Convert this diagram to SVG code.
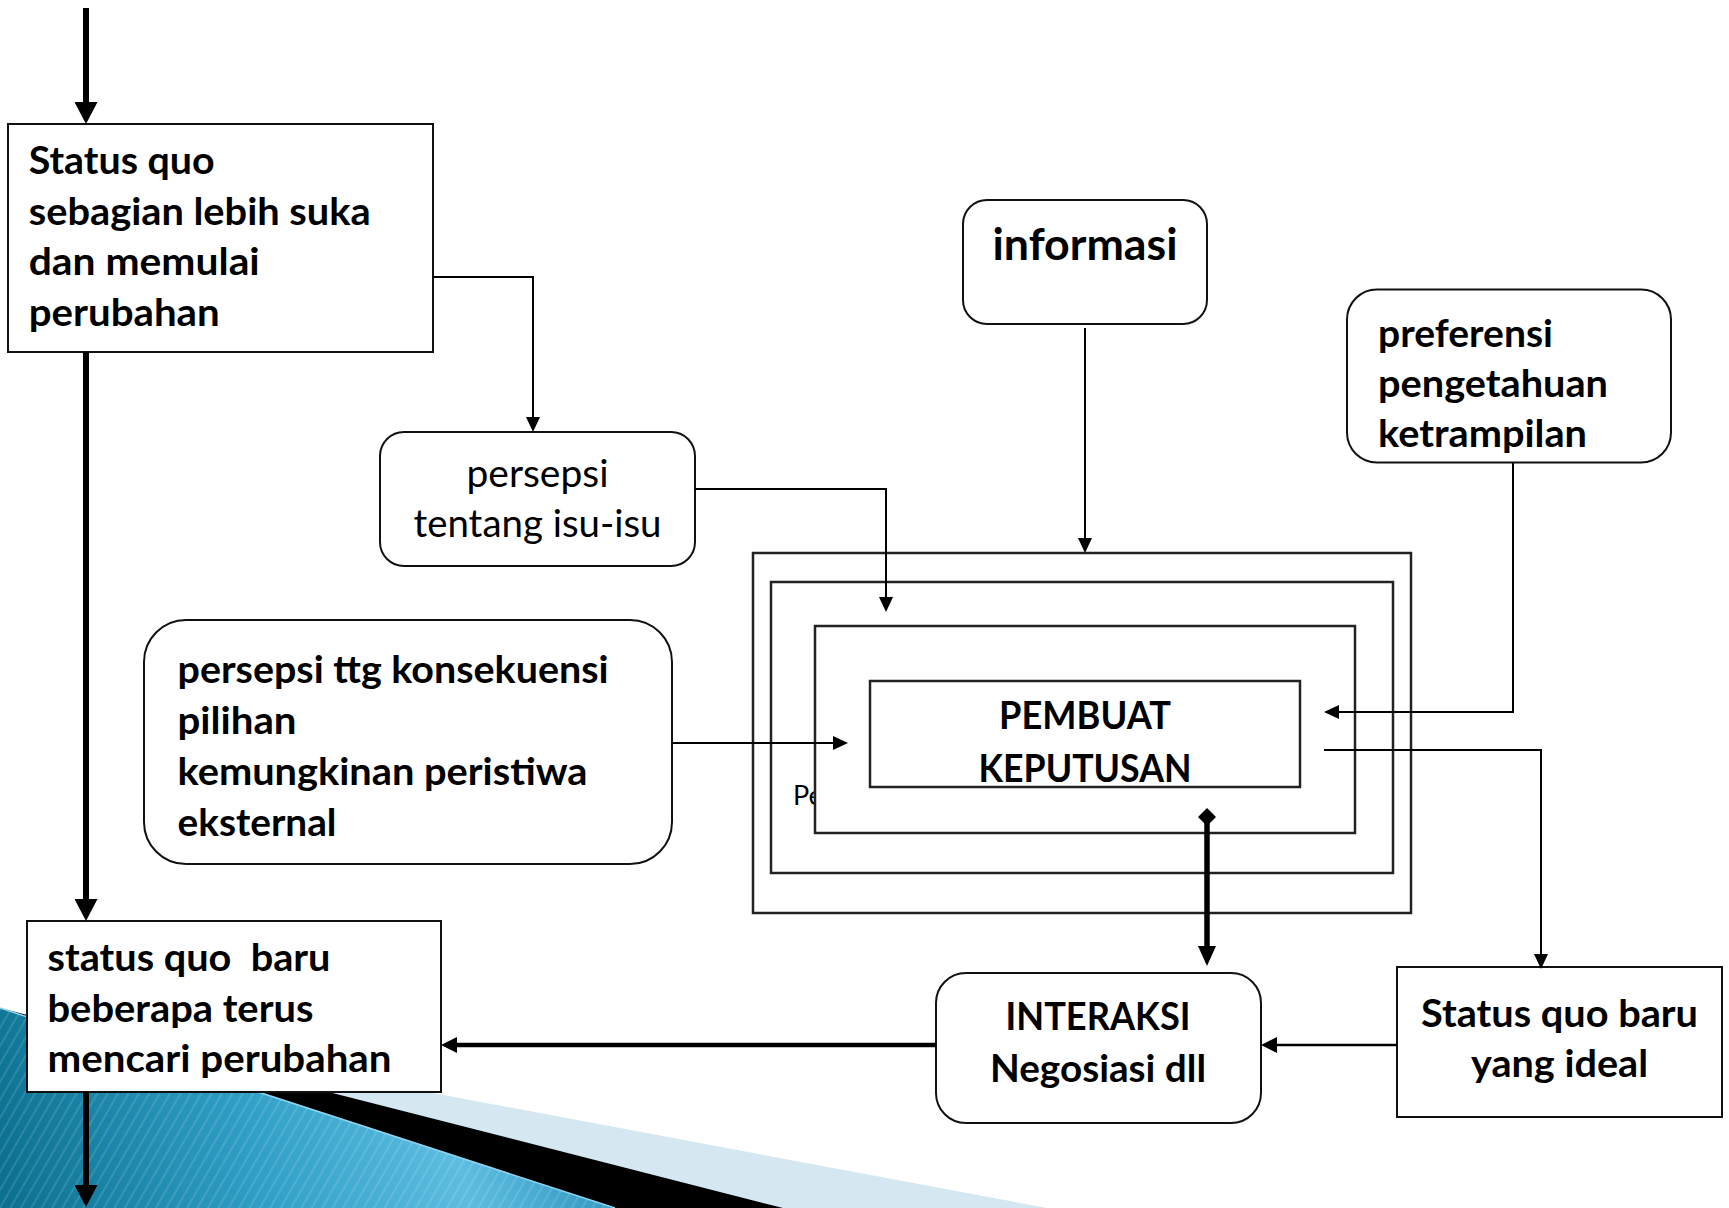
<svg xmlns="http://www.w3.org/2000/svg" width="1729" height="1208" viewBox="0 0 1729 1208">
  <defs>
    <style>
      .box { fill: #ffffff; stroke: #111111; stroke-width: 2; }
      .nest { fill: #ffffff; stroke: #222222; stroke-width: 2.5; }
      .tb { font-family: Lato, 'Liberation Sans', sans-serif; font-weight: 700; font-size: 38.7px; fill: #000000; }
      .tr { font-family: Lato, 'Liberation Sans', sans-serif; font-weight: 400; font-size: 38.7px; fill: #000000; }
      .c { text-anchor: middle; }
      .thin { fill: none; stroke: #000000; stroke-width: 2; }
      .thick { fill: none; stroke: #000000; stroke-width: 6; }
    </style>
    <marker id="ahThin" markerUnits="userSpaceOnUse" viewBox="0 0 15 14" markerWidth="15" markerHeight="14" refX="0" refY="7" orient="auto">
      <path d="M0,0 L15,7 L0,14 z" fill="#000"/>
    </marker>
    <marker id="ahMed" markerUnits="userSpaceOnUse" viewBox="0 0 16 16" markerWidth="16" markerHeight="16" refX="0" refY="8" orient="auto">
      <path d="M0,0 L16,8 L0,16 z" fill="#000"/>
    </marker>
    <marker id="ahThick" markerUnits="userSpaceOnUse" viewBox="0 0 22 23" markerWidth="22" markerHeight="23" refX="0" refY="11.5" orient="auto">
      <path d="M0,0 L22,11.5 L0,23 z" fill="#000"/>
    </marker>
    <marker id="ahBold" markerUnits="userSpaceOnUse" viewBox="0 0 20 18" markerWidth="20" markerHeight="18" refX="0" refY="9" orient="auto">
      <path d="M0,0 L20,9 L0,18 z" fill="#000"/>
    </marker>
    <linearGradient id="teal" gradientUnits="userSpaceOnUse" x1="0" y1="1208" x2="560" y2="1080">
      <stop offset="0" stop-color="#0b6f8e"/>
      <stop offset="0.45" stop-color="#2f9fc6"/>
      <stop offset="0.8" stop-color="#5dbde0"/>
      <stop offset="1" stop-color="#3a9fc6"/>
    </linearGradient>
    <pattern id="stripes" patternUnits="userSpaceOnUse" width="9" height="9" patternTransform="rotate(30)">
      <rect x="0" y="0" width="2" height="9" fill="#ffffff" fill-opacity="0.12"/>
    </pattern>
  </defs>

  <rect x="0" y="0" width="1729" height="1208" fill="#ffffff"/>

  <g id="background">
    <polygon points="0,1012 1047,1208 0,1208" fill="#d5e8f1"/>
    <polygon points="0,1008 783,1208 0,1208" fill="#000000"/>
    <polygon points="0,1008 615,1208 0,1208" fill="url(#teal)"/>
    <polygon points="0,1008 615,1208 0,1208" fill="url(#stripes)"/>
    <line x1="0" y1="1008" x2="615" y2="1208" stroke="#8fd3ee" stroke-width="1.5"/>
  </g>

  <g id="node-status-quo">
    <rect class="box" x="8" y="124" width="425" height="228"/>
    <text class="tb" x="28.7" y="174" textLength="186" lengthAdjust="spacingAndGlyphs">Status quo</text>
    <text class="tb" x="28.7" y="224.5" textLength="342" lengthAdjust="spacingAndGlyphs">sebagian lebih suka</text>
    <text class="tb" x="28.7" y="275" textLength="231" lengthAdjust="spacingAndGlyphs">dan memulai</text>
    <text class="tb" x="28.7" y="325.5" textLength="191" lengthAdjust="spacingAndGlyphs">perubahan</text>
  </g>

  <g id="node-persepsi-isu">
    <rect class="box" x="380" y="432" width="315" height="134" rx="24" ry="24"/>
    <text class="tr c" x="537.5" y="486.7" textLength="142" lengthAdjust="spacingAndGlyphs">persepsi</text>
    <text class="tr c" x="537.5" y="536.7" textLength="248" lengthAdjust="spacingAndGlyphs">tentang isu-isu</text>
  </g>

  <g id="node-informasi">
    <rect class="box" x="963" y="200" width="244" height="124" rx="24" ry="24"/>
    <text class="tb c" x="1085" y="260" style="font-size:43px" textLength="185" lengthAdjust="spacingAndGlyphs">informasi</text>
  </g>

  <g id="node-preferensi">
    <rect class="box" x="1347" y="289.5" width="324" height="173" rx="30" ry="30"/>
    <text class="tb" x="1378" y="346.7" textLength="175" lengthAdjust="spacingAndGlyphs">preferensi</text>
    <text class="tb" x="1378" y="396.7" textLength="230" lengthAdjust="spacingAndGlyphs">pengetahuan</text>
    <text class="tb" x="1378" y="446.7" textLength="209" lengthAdjust="spacingAndGlyphs">ketrampilan</text>
  </g>

  <g id="node-konsekuensi">
    <rect class="box" x="144" y="620" width="528" height="244" rx="42" ry="42"/>
    <text class="tb" x="177.5" y="682.7" textLength="431" lengthAdjust="spacingAndGlyphs">persepsi ttg konsekuensi</text>
    <text class="tb" x="177.5" y="734" textLength="119" lengthAdjust="spacingAndGlyphs">pilihan</text>
    <text class="tb" x="177.5" y="785" textLength="410" lengthAdjust="spacingAndGlyphs">kemungkinan peristiwa</text>
    <text class="tb" x="177.5" y="836" textLength="159" lengthAdjust="spacingAndGlyphs">eksternal</text>
  </g>

  <g id="node-pembuat-keputusan">
    <rect class="nest" x="753" y="553" width="658" height="360"/>
    <rect class="nest" x="771" y="582" width="622" height="291"/>
    <text class="tr" x="793" y="805" style="font-size:27px">Pe</text>
    <rect class="nest" x="815" y="626" width="540" height="207"/>
    <rect class="nest" x="870" y="681" width="430" height="106"/>
    <text class="tb c" x="1085" y="729.3" textLength="172" lengthAdjust="spacingAndGlyphs">PEMBUAT</text>
    <text class="tb c" x="1085" y="781.7" textLength="213" lengthAdjust="spacingAndGlyphs">KEPUTUSAN</text>
  </g>

  <g id="node-interaksi">
    <rect class="box" x="936" y="973" width="325" height="150" rx="30" ry="30"/>
    <text class="tb c" x="1098" y="1030" textLength="185" lengthAdjust="spacingAndGlyphs">INTERAKSI</text>
    <text class="tb c" x="1098" y="1081.7" textLength="216" lengthAdjust="spacingAndGlyphs">Negosiasi dll</text>
  </g>

  <g id="node-status-ideal">
    <rect class="box" x="1397" y="967" width="325" height="150"/>
    <text class="tb c" x="1559.5" y="1027" textLength="277" lengthAdjust="spacingAndGlyphs">Status quo baru</text>
    <text class="tb c" x="1559.5" y="1077" textLength="177" lengthAdjust="spacingAndGlyphs">yang ideal</text>
  </g>

  <g id="node-status-baru">
    <rect class="box" x="27" y="921" width="414" height="171"/>
    <text class="tb" x="47.5" y="971" xml:space="preserve" textLength="283" lengthAdjust="spacingAndGlyphs">status quo  baru</text>
    <text class="tb" x="47.5" y="1021.5" textLength="266" lengthAdjust="spacingAndGlyphs">beberapa terus</text>
    <text class="tb" x="47.5" y="1072" textLength="344" lengthAdjust="spacingAndGlyphs">mencari perubahan</text>
  </g>

  <g id="connectors">
    <path class="thick" d="M86,8 V102" marker-end="url(#ahThick)"/>
    <path class="thick" d="M86,352 V899" marker-end="url(#ahThick)"/>
    <path class="thick" d="M86,1092 V1185" marker-end="url(#ahThick)"/>
    <path class="thin" d="M433,277 H533 V417" marker-end="url(#ahThin)"/>
    <path class="thin" d="M695,489 H886 V597" marker-end="url(#ahThin)"/>
    <path class="thin" d="M1085,328 V538" marker-end="url(#ahThin)"/>
    <path class="thin" d="M1513,463 V712 H1339" marker-end="url(#ahThin)"/>
    <path class="thin" d="M1324,750 H1541 V954" marker-end="url(#ahThin)"/>
    <path class="thin" d="M672,743 H833" marker-end="url(#ahThin)"/>
    <path d="M1207,808 L1216,817 L1207,826 L1198,817 z" fill="#000"/>
    <path fill="none" stroke="#000" stroke-width="5.5" d="M1207,822 V946" marker-end="url(#ahBold)"/>
    <path fill="none" stroke="#000" stroke-width="2.5" d="M1397,1045 H1277" marker-end="url(#ahMed)"/>
    <path fill="none" stroke="#000" stroke-width="4.5" d="M936,1045 H457" marker-end="url(#ahMed)"/>
  </g>
</svg>
